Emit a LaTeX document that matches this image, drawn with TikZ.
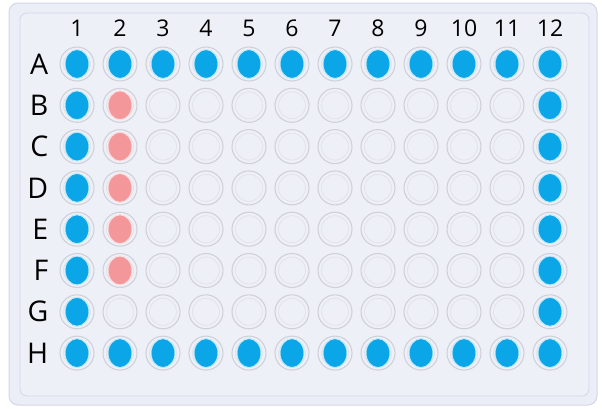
\documentclass[tikz,border=0pt]{standalone}
\usepackage{fontspec}
\setmainfont{Open Sans}
\usepackage{xcolor}
\usetikzlibrary{positioning}
\definecolor{plateBg}{HTML}{EEF0F8}
\definecolor{plateEdge}{HTML}{D3D7E6}
\definecolor{ringG}{HTML}{D0D0D8}
\definecolor{wellB}{HTML}{0AA6E8}
\definecolor{wellP}{HTML}{F4979A}

\begin{document}
\begin{tikzpicture}[x=1pt, y=-1pt,
  well/.style={circle, draw=ringG, line width=1.1pt, minimum size=34pt,
               inner sep=0pt, fill=plateBg},
  dotB/.style={fill=wellB, draw=wellB!25, line width=1pt},
  dotP/.style={fill=wellP, draw=wellP!30, line width=1pt},
  collab/.style={font=\fontsize{23}{23}\selectfont, inner sep=0pt},
  rowlab/.style={font=\fontsize{28.5}{28.5}\selectfont, inner sep=0pt}]
  \useasboundingbox (0,0) rectangle (602,408);
  % plate body
  \fill[white] (0,0) rectangle (602,408);
  \draw[plateEdge, fill=plateBg!92!plateEdge, rounded corners=9pt, line width=1pt]
    (9,3) rectangle (597,405);
  \draw[plateEdge, fill=plateBg, rounded corners=7pt, line width=0.8pt]
    (20,13) rectangle (589,396);
  % wells: rows A--H, columns 1--12
  \def\stepx{43}
  \def\stepy{41.3}
  \foreach \row [count=\i from 0] in {A,B,C,D,E,F,G,H}{
    \foreach \c in {1,...,12}{
      \node[well] (w\row\c) at ({77+\stepx*(\c-1)}, {64+\stepy*\i}) {};
      \draw[ringG!60, line width=0.8pt] (w\row\c) circle (13.5);
    }
    \node[rowlab, left=11pt of w\row1] (r\row) {\row};
  }
  \foreach \c in {1,...,12}{
    \node[collab, above=10pt of wA\c] (c\c) {\c};
  }
  % filled wells
  \foreach \c in {1,...,12}{
    \draw[dotB] (wA\c) ellipse (12 and 14.5);
    \draw[dotB] (wH\c) ellipse (12 and 14.5);
  }
  \foreach \row in {B,C,D,E,F,G}{
    \draw[dotB] (w\row1) ellipse (12 and 14.5);
    \draw[dotB] (w\row12) ellipse (12 and 14.5);
  }
  \foreach \row in {B,C,D,E,F}{
    \draw[dotP] (w\row2) ellipse (12 and 14.5);
  }
\end{tikzpicture}
\end{document}
